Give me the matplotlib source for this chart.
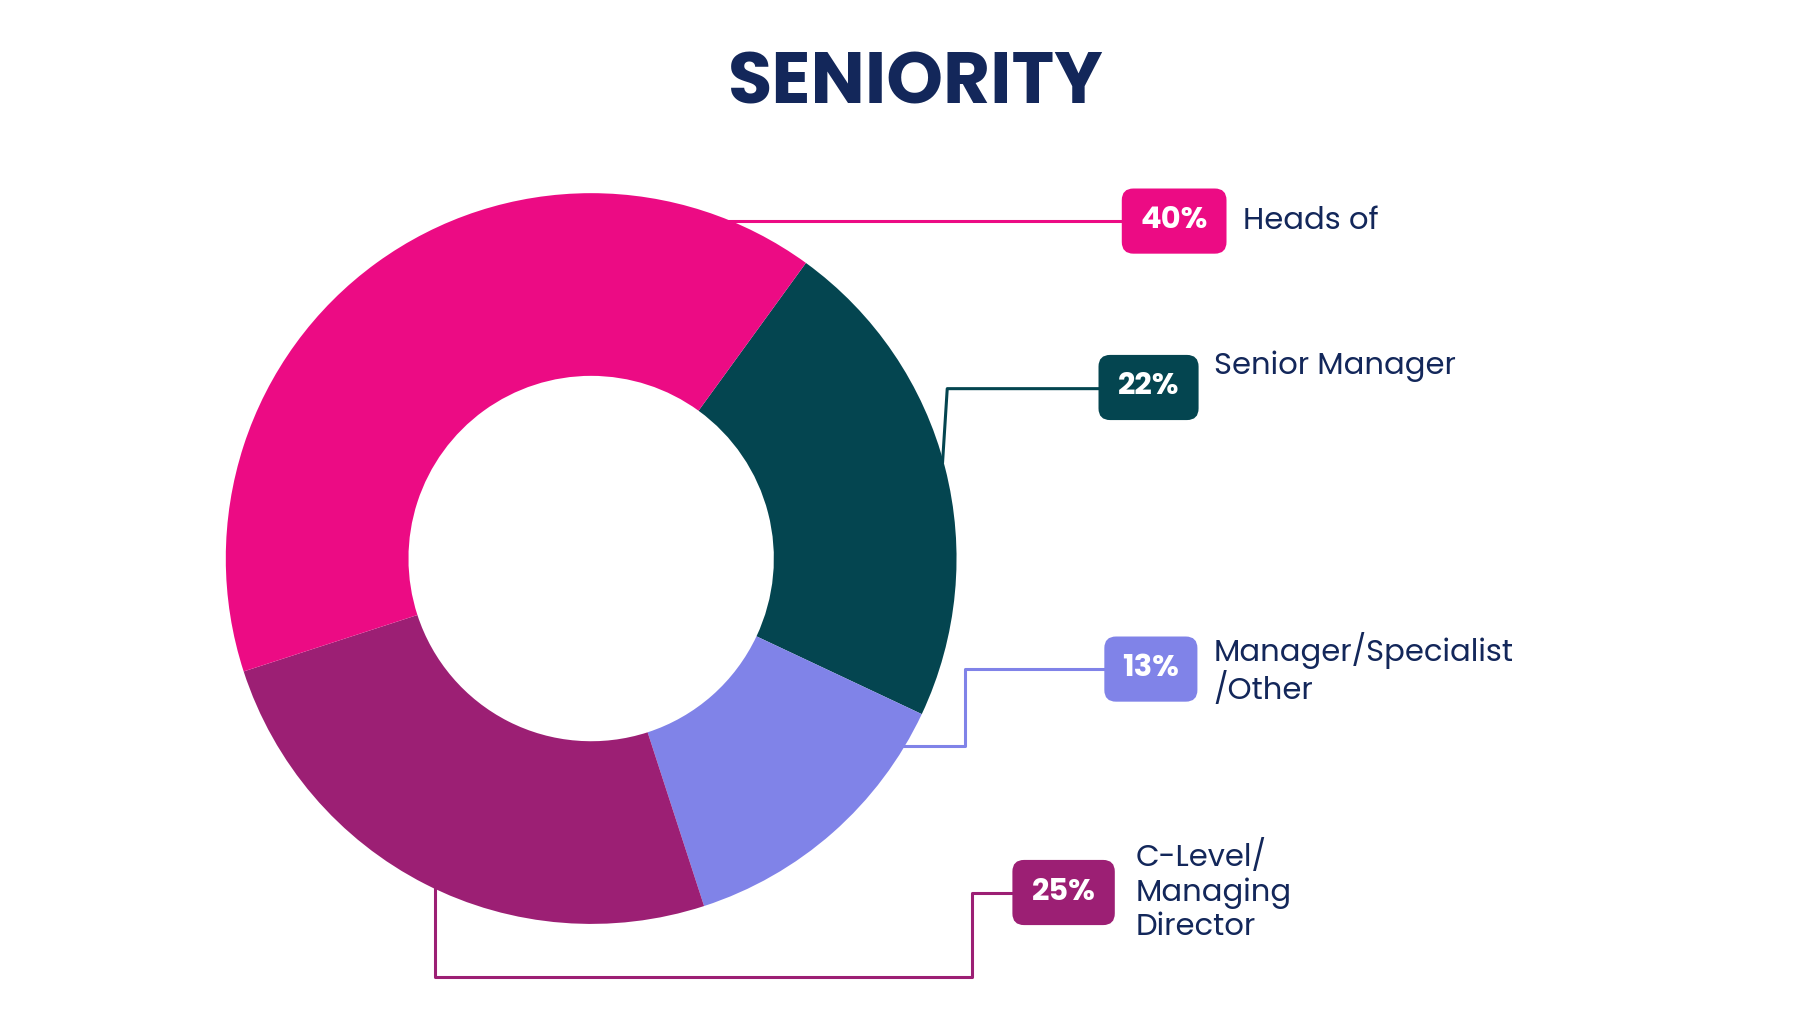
import matplotlib.pyplot as plt
from matplotlib.patches import FancyBboxPatch

labels = ["Senior Manager", "Manager/Specialist\n/Other", "C-Level/\nManaging\nDirector", "Heads of"]
values = [22, 13, 25, 40]
colors = ["#044550", "#8083E8", "#9C1F74", "#EC0B84"]

W, H = 1560, 880
def Y(y):
    return H - y

plt.rcParams['font.family'] = ['Poppins', 'Inter', 'DejaVu Sans']
fig = plt.figure(figsize=(18.2, 10.24), dpi=100)
ax = fig.add_axes([0, 0, 1, 1])
ax.set_xlim(0, W)
ax.set_ylim(0, H)
ax.set_aspect('equal')
ax.axis('off')

ax.pie(values, colors=colors, startangle=54, counterclock=False,
       center=(506, Y(480)), radius=314, frame=True,
       wedgeprops=dict(width=157, linewidth=0))
ax.set_xlim(0, W)
ax.set_ylim(0, H)
ax.axis('off')

ax.text(785, Y(74), "SENIORITY", ha='center', va='center', fontsize=52,
        fontweight='bold', color="#13275A")

# leader lines (pixel coordinates of the layout)
lines = [
    ([808, 812, 942], [397, 334, 334]),
    ([775, 827, 827, 947], [641, 641, 575, 575]),
    ([372, 372, 833, 833, 868], [762, 840, 840, 767, 767]),
    ([597, 962], [190, 190]),
]
badges = [(942, 1028, 333), (947, 1027, 575), (868, 956, 767), (962, 1052, 190)]
label_pos = [(1041, 315), (1041, 575), (974, 766), (1066, 190)]

for i, (lx, ly) in enumerate(lines):
    ax.plot(lx, [Y(v) for v in ly], color=colors[i], lw=2.2, solid_joinstyle='round')
    x0, x1, yc = badges[i]
    ax.add_patch(FancyBboxPatch((x0 + 8, Y(yc) - 20), x1 - x0 - 16, 40,
                                boxstyle="round,pad=8,rounding_size=10",
                                fc=colors[i], ec='none'))
    ax.text((x0 + x1) / 2, Y(yc), f"{values[i]}%", ha='center', va='center',
            fontsize=22, fontweight='bold', color='white')
    tx, ty = label_pos[i]
    ax.text(tx, Y(ty), labels[i], ha='left', va='center', fontsize=22,
            color="#13275A", linespacing=1.15)

fig.savefig("out.png", dpi=100, facecolor='white')
